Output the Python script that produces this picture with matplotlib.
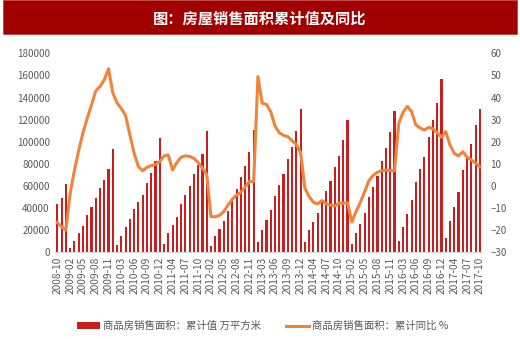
import matplotlib
matplotlib.use("Agg")
import matplotlib.pyplot as plt
from matplotlib.patches import Rectangle
import numpy as np

plt.rcParams['font.family'] = ['Noto Sans CJK SC', 'DejaVu Sans']

# months (January omitted, Jan-Feb combined)
months = []
for y in range(2008, 2018):
    for m in range(1, 13):
        if m == 1:
            continue
        if y == 2008 and m < 10:
            continue
        if y == 2017 and m > 10:
            continue
        months.append(f"{y}-{m:02d}")

area_cum = [43.7, 48.8, 61.8,
            3.9, 10.3, 17.2, 23.8, 33.5, 41.3, 48.8, 58.2, 65.4, 75.4, 93.2,
            6.3, 14.8, 22.9, 29.8, 38.9, 45.2, 51.9, 62.4, 71.8, 82.6, 103.7,
            7.5, 17.2, 24.4, 32.3, 44.0, 51.6, 59.7, 70.8, 79.0, 88.6, 109.7,
            6.0, 14.8, 20.8, 28.3, 37.1, 47.9, 57.0, 68.4, 78.1, 90.4, 110.6,
            9.6, 20.2, 29.2, 38.3, 50.9, 60.6, 70.5, 84.4, 95.0, 109.7, 129.6,
            9.6, 19.9, 27.1, 35.3, 46.4, 55.8, 64.5, 76.9, 87.4, 101.3, 119.7,
            7.8, 17.8, 25.6, 35.3, 49.7, 59.4, 69.3, 82.6, 94.4, 108.5, 127.8,
            10.3, 23.2, 34.7, 47.3, 63.6, 75.7, 86.5, 104.0, 119.7, 135.4, 157.1,
            13.3, 28.3, 40.7, 54.3, 74.5, 85.9, 97.7, 115.5, 129.9]
area_cum = [v * 1000 for v in area_cum]

yoy = [-16.6, -18.4, -20.0,
       -3.5, 7.0, 16.0, 24.0, 30.6, 36.6, 43.0, 45.0, 48.0, 53.0, 42.1,
       37.5, 35.0, 31.8, 23.1, 14.8, 8.7, 6.9, 8.4, 9.2, 9.8, 11.0,
       13.6, 14.0, 7.2, 10.6, 13.0, 13.6, 13.4, 12.5, 10.6, 8.0, 5.3,
       -13.9, -13.9, -13.3, -11.6, -8.6, -6.0, -4.1, -2.9, -0.5, 2.0, 2.0,
       49.5, 37.4, 36.9, 33.6, 27.1, 24.1, 22.9, 22.3, 20.5, 18.8, 15.0,
       -1.0, -4.8, -7.4, -8.1, -6.6, -8.1, -8.7, -9.0, -7.8, -7.8, -7.6,
       -16.3, -11.5, -7.4, -2.6, 2.4, 4.8, 6.2, 6.9, 7.2, 6.9, 6.9,
       28.3, 33.3, 36.0, 33.6, 27.6, 26.2, 25.3, 26.5, 25.9, 24.1, 22.0,
       24.6, 18.5, 14.8, 13.6, 15.5, 13.0, 11.8, 10.3, 8.7]

title = "图：房屋销售面积累计值及同比"
bar_label = "商品房销售面积：累计值 万平方米"
line_label = "商品房销售面积：累计同比 %"

fig = plt.figure(figsize=(5.2, 3.39), dpi=100)
fig.patches.append(Rectangle((3 / 520, 1 - 34 / 339), 514 / 520, 34 / 339,
                             transform=fig.transFigure, facecolor='#A00000',
                             edgecolor='#C04040', linewidth=0.6, zorder=0))
fig.text(0.5, 1 - 19 / 339, title, color='white', fontsize=11, fontweight='bold',
         ha='center', va='center')

ax = fig.add_axes([55.2 / 520, 1 - 252.3 / 339, 426.8 / 520, 199 / 339])
x = np.arange(len(months))
bars = ax.bar(x, area_cum, width=0.5, color='#C81E1E', label=bar_label, zorder=2)
ax.set_xlim(-0.5, len(months) - 0.5)
ax.set_ylim(0, 180000)
ax.set_yticks(np.arange(0, 180001, 20000))
ax.set_xticks(x[::3])
ax.set_xticklabels(months[::3], rotation=90, fontsize=7.3, color='#595959')
ax.tick_params(axis='y', labelsize=7, colors='#595959', length=0, pad=4)
ax.tick_params(axis='x', length=0, pad=3)
for s in ['top', 'right', 'left']:
    ax.spines[s].set_visible(False)
ax.spines['bottom'].set_color('#D9D9D9')

ax2 = ax.twinx()
line, = ax2.plot(x, yoy, color='#F0843A', linewidth=2.2, label=line_label, zorder=3)
ax2.set_ylim(-30, 60)
ax2.set_yticks(np.arange(-30, 61, 10))
ax2.tick_params(axis='y', labelsize=7, colors='#595959', length=0, pad=6)
for s in ['top', 'right', 'left', 'bottom']:
    ax2.spines[s].set_visible(False)

fig.legend([bars, line], [bar_label, line_label], loc='center',
           bbox_to_anchor=(0.505, 1 - 326 / 339), ncol=2, frameon=False,
           fontsize=7.5, labelcolor='#595959', handlelength=2.2,
           handleheight=0.6, columnspacing=2.4, handletextpad=0.3)

fig.savefig("out.png", dpi=100)
